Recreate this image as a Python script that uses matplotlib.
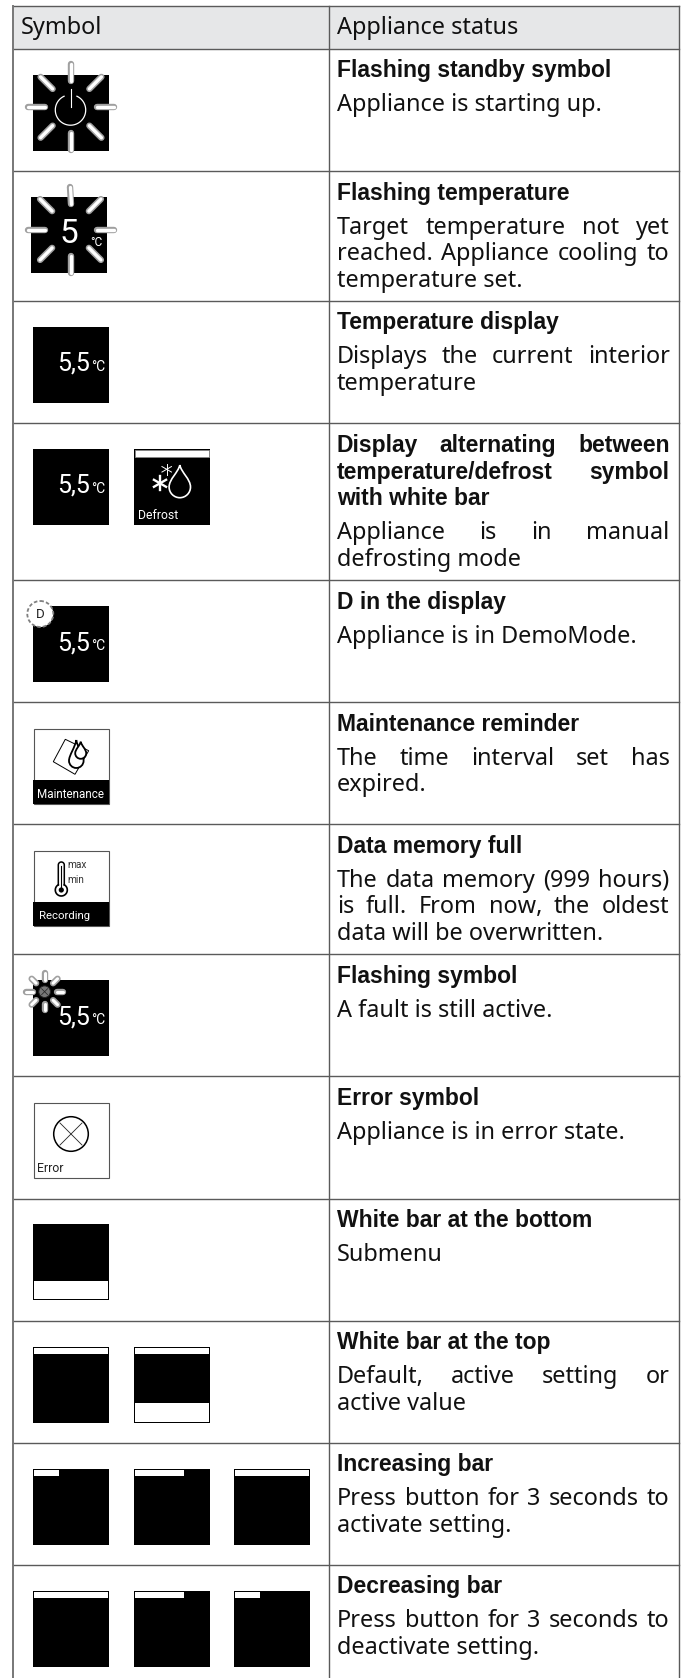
import numpy as np
import matplotlib
matplotlib.use('Agg')
import matplotlib.pyplot as plt
from matplotlib.patches import Rectangle, Circle, PathPatch, Polygon
from matplotlib.path import Path

plt.rcParams['font.family'] = ['Noto Sans', 'DejaVu Sans']

# table text
headers = ['Symbol', 'Appliance status']
titles = [
    ['Flashing standby symbol'],
    ['Flashing temperature'],
    ['Temperature display'],
    ['Display alternating between', 'temperature/defrost symbol', 'with white bar'],
    ['D in the display'],
    ['Maintenance reminder'],
    ['Data memory full'],
    ['Flashing symbol'],
    ['Error symbol'],
    ['White bar at the bottom'],
    ['White bar at the top'],
    ['Increasing bar'],
    ['Decreasing bar'],
]
bodies = [
    ['Appliance is starting up.'],
    ['Target temperature not yet', 'reached. Appliance cooling to', 'temperature set.'],
    ['Displays the current interior', 'temperature'],
    ['Appliance is in manual', 'defrosting mode'],
    ['Appliance is in DemoMode.'],
    ['The time interval set has', 'expired.'],
    ['The data memory (999 hours)', 'is full. From now, the oldest', 'data will be overwritten.'],
    ['A fault is still active.'],
    ['Appliance is in error state.'],
    ['Submenu'],
    ['Default, active setting or', 'active value'],
    ['Press button for 3 seconds to', 'activate setting.'],
    ['Press button for 3 seconds to', 'deactivate setting.'],
]
temp_text = '5,5'
unit_text = '°C'
increasing_bar = [1/3, 2/3, 1]
decreasing_bar = [1, 2/3, 1/3]

# layout in pixels
row_lines = [48.5, 171, 300.5, 423.3, 580, 702, 824, 954, 1076, 1198.5, 1320.5, 1442.5, 1564.5]
box_tops = [75, 197, 327, 449, 606, 728, 850, 980, 1102.5, 1224, 1346.5, 1469, 1591]
col_x = [33, 134, 234]
box = 76
text_l, text_r = 336.8, 669.5
C_LINE = '#5a5a5a'
C_RAY = '#a0a0a0'

fig = plt.figure(figsize=(6.86, 16.78), dpi=100)
ax = fig.add_axes([0, 0, 1, 1])
ax.set_xlim(0, 686)
ax.set_ylim(1678, 0)
ax.axis('off')
renderer = fig.canvas.get_renderer()


def rect(x, y, w, h, fc='black', ec='none', lw=0, z=2):
    ax.add_patch(Rectangle((x, y), w, h, fc=fc, ec=ec, lw=lw, zorder=z))


def label(x, y, s, color='white', size=9, z=6, **kw):
    return ax.text(x, y, s, color=color, fontsize=size, family=['Roboto', 'DejaVu Sans'],
                   va='baseline', zorder=z, **kw)


def put(x, y, s, weight):
    if weight == 'bold':
        return ax.text(x, y, s, fontsize=16.5, weight='bold', family=['Liberation Sans', 'DejaVu Sans'],
                       color='#111111', va='baseline')
    return ax.text(x, y, s, fontsize=16.9, color='#111111', va='baseline')


def line_text(y, s, weight, justify):
    if not justify:
        put(text_l, y, s, weight)
        return
    words = s.split(' ')
    items = [put(text_l, y, w, weight) for w in words]
    widths = [t.get_window_extent(renderer).width for t in items]
    gap = (text_r - text_l - sum(widths)) / (len(words) - 1)
    x = text_l
    for t, w in zip(items, widths):
        t.set_x(x)
        x += w + gap


def rays(cx, cy, r0, r1, w_out, w_in):
    for a in np.deg2rad(np.arange(0, 360, 45)):
        xs = [cx + r0 * np.cos(a), cx + r1 * np.cos(a)]
        ys = [cy + r0 * np.sin(a), cy + r1 * np.sin(a)]
        ax.plot(xs, ys, color=C_RAY, lw=w_out, solid_capstyle='round', zorder=4)
        ax.plot(xs, ys, color='white', lw=w_in, solid_capstyle='round', zorder=5)


def drop(cx, cy, r, tip, fc='none', ec='white', lw=1.2, z=5):
    k = 0.5523 * r
    verts = [(cx, tip), (cx + 0.15 * r, tip + (cy - tip) * 0.35), (cx + r, cy - 0.75 * r), (cx + r, cy),
             (cx + r, cy + k), (cx + k, cy + r), (cx, cy + r),
             (cx - k, cy + r), (cx - r, cy + k), (cx - r, cy),
             (cx - r, cy - 0.75 * r), (cx - 0.15 * r, tip + (cy - tip) * 0.35), (cx, tip)]
    codes = [Path.MOVETO] + [Path.CURVE4] * 12
    ax.add_patch(PathPatch(Path(verts, codes), fc=fc, ec=ec, lw=lw, zorder=z))


def asterisk(cx, cy, r, lw):
    for a in np.deg2rad([90, 30, -30]):
        ax.plot([cx - r * np.cos(a), cx + r * np.cos(a)], [cy - r * np.sin(a), cy + r * np.sin(a)],
                color='white', lw=lw, zorder=5)


def temp_box(x, y):
    rect(x, y, box, box)
    label(x + 24.5, y + 44, temp_text, size=18)
    label(x + 58.5, y + 44, unit_text, size=10)


def white_box(x, y):
    rect(x + 0.5, y + 0.5, box - 1, box - 1, fc='white', ec='#555555', lw=0.8)


def top_bar(x, y, frac):
    rect(x, y, box, box)
    rect(x + 1, y + 1, (box - 2) * frac, 6, fc='white', z=3)


def bottom_white(x, y, top_white=False):
    rect(x, y, box, box)
    rect(x + 1, y + 56.5, box - 2, 18.5, fc='white', z=3)
    if top_white:
        rect(x + 1, y + 1, box - 2, 6, fc='white', z=3)


# header and grid
rect(13, 6, 665.5, 42.5, fc='#e6e7e8', z=0)
for y in [6] + row_lines:
    ax.plot([13, 678.5], [y, y], color=C_LINE, lw=1.0, zorder=1)
ax.plot([13, 13], [6, 1678], color='#777777', lw=1.4, zorder=1)
ax.plot([329, 329], [6, 1678], color=C_LINE, lw=1.0, zorder=1)
ax.plot([678.5, 678.5], [6, 1678], color=C_LINE, lw=1.0, zorder=1)
ax.text(21, 34, headers[0], fontsize=16.9, color='#111111', va='baseline')
ax.text(text_l, 34, headers[1], fontsize=16.9, color='#111111', va='baseline')

# right column
for top, title, body in zip(row_lines, titles, bodies):
    y = top + 28.7
    for i, s in enumerate(title):
        line_text(y, s, 'bold', len(title) > 1 and i < len(title) - 1)
        if i < len(title) - 1:
            y += 26.6
    y += 34
    for i, s in enumerate(body):
        line_text(y, s, 'normal', i < len(body) - 1)
        y += 26.5

# 1 flashing standby
y = box_tops[0]
rect(33, y, box, box)
rays(71, y + 32.3, 26, 43, 4.6, 2.4)
a = np.deg2rad(np.linspace(-65, 245, 80))
ax.plot(70.5 + 15.2 * np.cos(a), y + 35 + 15.2 * np.sin(a), color='white', lw=0.9, zorder=5)
ax.plot([70.5, 70.5], [y + 14, y + 31.5], color='white', lw=0.8, zorder=5)

# 2 flashing temperature
y = box_tops[1]
rect(31, y, box, box)
rays(70.5, y + 32.5, 26, 43, 4.6, 2.4)
label(59.5, y + 46, temp_text[0], size=24)
label(90, y + 49, unit_text, size=8.6)

# 3 temperature
temp_box(33, box_tops[2])

# 4 defrost
y = box_tops[3]
temp_box(33, y)
x = col_x[1]
rect(x, y, box, box)
rect(x + 1, y + 1, box - 2, 6.5, fc='white', ec='#888888', lw=0.6, z=3)
asterisk(160, y + 34.3, 7, 1.7)
asterisk(166.7, y + 20.3, 5.5, 0.7)
drop(179.8, y + 38, 10.7, y + 16)
label(x + 4, y + 70.3, 'Defrost', size=8.8)

# 5 demo mode
y = box_tops[4]
temp_box(33, y)
ax.add_patch(Circle((40.3, y + 8), 13, fc='white', ec='#808080', lw=1.3, ls=(0, (2, 1.2)), zorder=5))
label(35.5, y + 12.5, 'D', color='#222222', size=9.5)

# 6 maintenance
y = box_tops[5]
x = 33
white_box(x, y)
rect(x, y + 52, box, 24, z=3)
label(x + 4.3, y + 69.7, 'Maintenance', size=8.4)
ax.add_patch(Polygon([(65.3, y + 11.3), (88.7, y + 22.7), (75, y + 46.3), (53.3, y + 33.7)],
                     fc='white', ec='black', lw=0.7, zorder=4))
drop(76.3, y + 32.7, 7.3, y + 12, fc='white', ec='black', lw=1.3)
drop(80.7, y + 25.3, 5.5, y + 13.7, fc='white', ec='black', lw=1.3, z=6)

# 7 recording
y = box_tops[6]
white_box(x, y)
rect(x, y + 52, box, 24, z=3)
label(x + 5.5, y + 69, 'Recording', size=8.2)
a = np.deg2rad(np.linspace(180, 360, 20))
tube_x = np.r_[58.3, 61.3 + 3 * np.cos(a), 64.3]
tube_y = np.r_[y + 35, y + 15 + 3 * np.sin(a), y + 35]
ax.plot(tube_x, tube_y, color='black', lw=1.1, zorder=5)
a = np.deg2rad(np.linspace(-60, 240, 50))
ax.plot(61.3 + 6 * np.cos(a), y + 40 + 6 * np.sin(a), color='black', lw=1.2, zorder=5)
ax.add_patch(Circle((61.3, y + 40), 2.6, fc='black', ec='none', zorder=5))
ax.plot([61.3, 61.3], [y + 16, y + 38], color='black', lw=0.8, zorder=5)
label(67.7, y + 18.3, 'max', color='#333333', size=7.3)
label(67.7, y + 32.7, 'min', color='#333333', size=7.3)

# 8 flashing symbol
y = box_tops[7]
temp_box(33, y)
rays(44.6, y + 11.7, 12, 18.3, 4.6, 2.2)
ax.add_patch(Circle((44.6, y + 11.7), 5.8, fc='#777777', ec='#222222', lw=0.7, zorder=5))
for d in [1, -1]:
    ax.plot([41.6, 47.6], [y + 11.7 - 3 * d, y + 11.7 + 3 * d], color='#222222', lw=0.5, zorder=6)

# 9 error
y = box_tops[8]
white_box(x, y)
ax.add_patch(Circle((71, y + 31.5), 17.3, fc='none', ec='black', lw=1.1, zorder=5))
for d in [1, -1]:
    ax.plot([60, 82], [y + 31.5 - 11 * d, y + 31.5 + 11 * d], color='#222222', lw=0.6, zorder=5)
label(x + 4, y + 69.8, 'Error', color='#222222', size=8.8)

# 10 white bar bottom
bottom_white(33, box_tops[9])

# 11 white bar top
top_bar(33, box_tops[10], 1)
bottom_white(col_x[1], box_tops[10], top_white=True)

# 12, 13 bars
for x, f in zip(col_x, increasing_bar):
    top_bar(x, box_tops[11], f)
for x, f in zip(col_x, decreasing_bar):
    top_bar(x, box_tops[12], f)

fig.savefig('out.png', dpi=100)
